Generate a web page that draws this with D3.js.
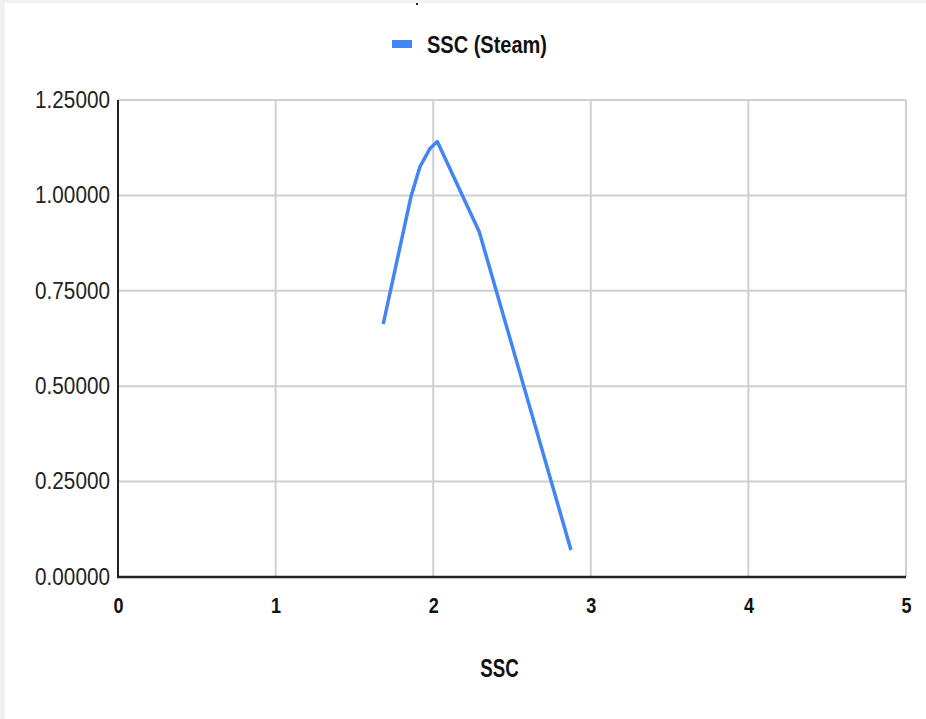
<!DOCTYPE html>
<html lang="en">
<head>
    <meta charset="UTF-8">
    <title>SSC (Steam)</title>
    <script src="https://d3js.org/d3.v7.min.js"></script>
    <style>
        body { margin: 0; background: #f1f1f1; }
        svg { display: block; }
        text { font-family: "Liberation Sans", Arial, sans-serif; }
    </style>
</head>
<body>
    <div id="chart"></div>
    <script>
        // values
        const seriesName = "SSC (Steam)";
        const xTitle = "SSC";
        const ssc = [1.683, 1.859, 1.916, 1.980, 2.026, 2.292, 2.874];
        const steam = [0.663, 0.997, 1.075, 1.123, 1.141, 0.905, 0.071];
        const xTicks = [0, 1, 2, 3, 4, 5];
        const yTicks = [0, 0.25, 0.5, 0.75, 1.0, 1.25];

        const data = ssc.map((d, i) => ({x: d, y: steam[i]}));

        const W = 926, H = 719;
        const margin = {top: 100, right: 20, bottom: 142, left: 118};

        const svg = d3.select("#chart").append("svg")
            .attr("width", W)
            .attr("height", H);

        // white card, leaving the thin grey edge at top and left
        svg.append("rect")
            .attr("x", 5).attr("y", 3)
            .attr("width", W - 5).attr("height", H - 3)
            .attr("fill", "#fff");

        // small dark speck at the top edge (cut-off title in the source)
        svg.append("rect")
            .attr("x", 416).attr("y", 3)
            .attr("width", 2).attr("height", 2)
            .attr("fill", "#222");

        const x = d3.scaleLinear().domain([0, 5]).range([margin.left, W - margin.right]);
        const y = d3.scaleLinear().domain([0, 1.25]).range([H - margin.bottom, margin.top]);

        // grid
        svg.append("g")
            .selectAll("line.v")
            .data(xTicks.filter(d => d > 0))
          .enter().append("line")
            .attr("x1", d => x(d)).attr("x2", d => x(d))
            .attr("y1", y(0)).attr("y2", y(1.25))
            .attr("stroke", "#d0d0d0").attr("stroke-width", 2);

        svg.append("g")
            .selectAll("line.h")
            .data(yTicks.filter(d => d > 0))
          .enter().append("line")
            .attr("x1", x(0)).attr("x2", x(5))
            .attr("y1", d => y(d)).attr("y2", d => y(d))
            .attr("stroke", "#d0d0d0").attr("stroke-width", 2);

        // axes
        const yAxis = svg.append("g")
            .attr("transform", "translate(" + x(0) + ",0)")
            .call(d3.axisLeft(y).tickValues(yTicks).tickFormat(d3.format(".5f")).tickSize(0).tickPadding(9));
        yAxis.select(".domain").remove();
        yAxis.selectAll("text")
            .style("font-size", "23px")
            .attr("fill", "#222")
            .attr("transform", "scale(0.9,1)");

        const xAxis = svg.append("g")
            .attr("transform", "translate(0," + y(0) + ")")
            .call(d3.axisBottom(x).tickValues(xTicks).tickFormat(d3.format("d")).tickSize(0).tickPadding(20));
        xAxis.select(".domain").remove();
        xAxis.selectAll("text")
            .style("font-size", "22px")
            .style("font-weight", "bold")
            .attr("fill", "#111")
            .attr("transform", "scale(0.82,1)");

        svg.append("line")
            .attr("x1", x(0)).attr("x2", x(0))
            .attr("y1", y(1.25)).attr("y2", y(0))
            .attr("stroke", "#222").attr("stroke-width", 2);
        svg.append("line")
            .attr("x1", x(0) - 1).attr("x2", x(5))
            .attr("y1", y(0)).attr("y2", y(0))
            .attr("stroke", "#222").attr("stroke-width", 2.5);

        // series line
        const line = d3.line()
            .x(d => x(d.x))
            .y(d => y(d.y));

        svg.append("path")
            .datum(data)
            .attr("fill", "none")
            .attr("stroke", "#4285f4")
            .attr("stroke-width", 3.5)
            .attr("stroke-linejoin", "round")
            .attr("d", line);

        // legend
        const legend = svg.append("g").attr("transform", "translate(392,40)");
        legend.append("rect")
            .attr("width", 20).attr("height", 8)
            .attr("fill", "#4285f4");
        legend.append("text")
            .attr("transform", "translate(35,13) scale(0.87,1)")
            .style("font-size", "23px")
            .style("font-weight", "bold")
            .attr("fill", "#111")
            .text(seriesName);

        // x axis title
        svg.append("text")
            .attr("transform", "translate(" + 499.5 + ",677) scale(0.72,1)")
            .attr("text-anchor", "middle")
            .style("font-size", "26px")
            .style("font-weight", "bold")
            .attr("fill", "#111")
            .text(xTitle);
    </script>
</body>
</html>
